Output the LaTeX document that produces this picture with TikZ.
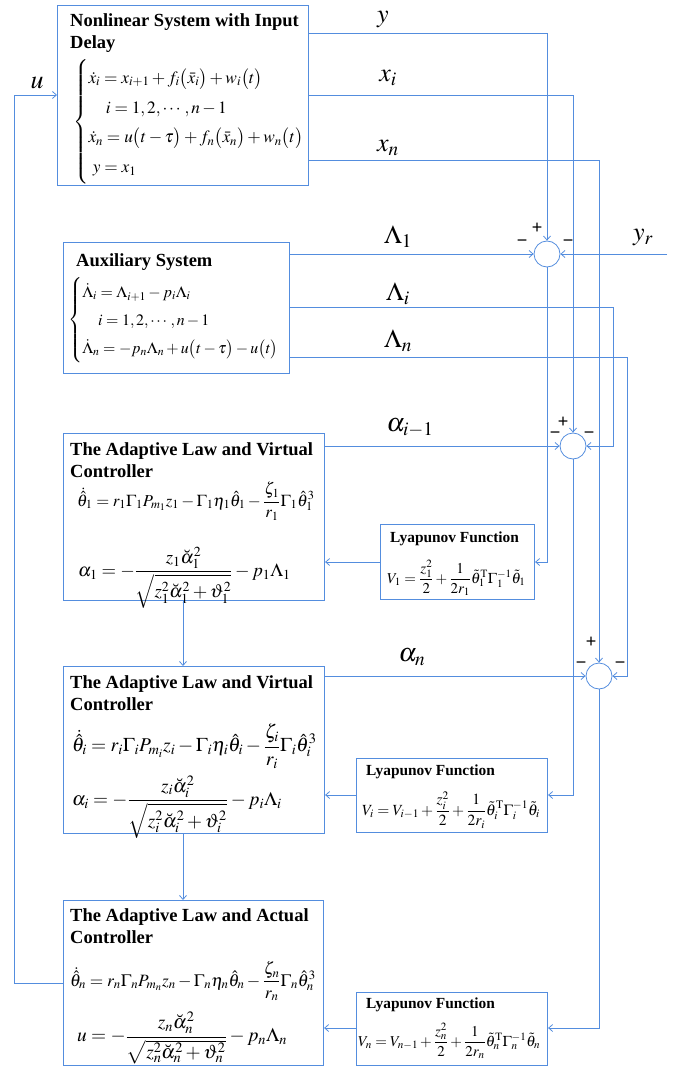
\documentclass[tikz,border=0pt]{standalone}
\usepackage{amsmath}
\usepackage{mathptmx}
\usepackage[no-math]{fontspec}
\setmainfont{Liberation Serif}
\newfontfamily\signfont{Liberation Sans}
\usetikzlibrary{arrows.meta}
\definecolor{lc}{RGB}{84,141,222}
\newcommand{\fs}[1]{\fontsize{#1}{#1}\selectfont}
\begin{document}
\begin{tikzpicture}[x=1pt,y=-1pt,
  wire/.style={draw=lc, line width=0.8pt},
  arr/.style={wire, -{Straight Barb[length=4pt,width=7pt]}},
  blk/.style={draw=lc, line width=1.1pt, rectangle, inner sep=0pt, anchor=north west},
  sumc/.style={circle, draw=lc, line width=0.8pt, minimum size=26pt, inner sep=0pt},
  ttl/.style={font=\fontsize{18.5}{22}\selectfont\bfseries, anchor=base west, inner sep=0pt, align=left},
  lyt/.style={font=\fontsize{15.4}{16}\selectfont\bfseries, anchor=base west, inner sep=0pt},
  eqn/.style={anchor=west, inner sep=0pt},
  lbl/.style={font=\fs{26}, inner sep=0pt},
  sgn/.style={font=\fs{18}\signfont, inner sep=0pt}
]
\useasboundingbox (0,0) rectangle (675,1067);

% blocks
\node[blk, minimum width=251pt, minimum height=180pt] (sys) at (57,5) {};
\node[blk, minimum width=226pt, minimum height=131pt] (aux) at (63,242) {};
\node[blk, minimum width=261pt, minimum height=167pt] (ad1) at (63,433) {};
\node[blk, minimum width=154pt, minimum height=75pt] (ly1) at (380,524) {};
\node[blk, minimum width=261pt, minimum height=167pt] (ad2) at (63,666) {};
\node[blk, minimum width=191pt, minimum height=74pt] (ly2) at (356,758) {};
\node[blk, minimum width=260pt, minimum height=165pt] (ad3) at (63,900) {};
\node[blk, minimum width=191pt, minimum height=73pt] (ly3) at (356,992) {};

% summing junctions
\node[sumc] (s1) at (547,254) {};
\node[sumc] (s2) at (573,446) {};
\node[sumc] (s3) at (599,676) {};

% block contents
\node[ttl] (sysT) at (70,49) {Nonlinear System with Input\\Delay};
\node[eqn, font=\fs{17.3}] (sysE) at (73,122) {$\renewcommand{\arraystretch}{1.73}\left\{\begin{array}{@{}l@{}}
 \dot x_i = x_{i+1} + f_i\big(\bar x_i\big) + w_i\big(t\big)\\
 \quad i=1,2,\cdots,n-1\\
 \dot x_n = u\big(t-\tau\big) + f_n\big(\bar x_n\big) + w_n\big(t\big)\\
 \ y = x_1
 \end{array}\right.$};

\node[ttl] (auxT) at (76,266) {Auxiliary System};
\node[eqn, font=\fs{15.9}] (auxE) at (68,320) {$\renewcommand{\arraystretch}{1.76}\left\{\begin{array}{@{}l@{}}
 \dot\Lambda_i = \Lambda_{i+1} - p_i\Lambda_i\\
 \quad i=1,2,\cdots,n-1\\
 \dot\Lambda_n = -p_n\Lambda_n + u\big(t-\tau\big) - u\big(t\big)
 \end{array}\right.$};

\node[ttl] (ad1T) at (70,477) {The Adaptive Law and Virtual\\Controller};
\node[eqn, font=\fs{16.7}] (ad1E) at (77,501) {$\displaystyle \dot{\hat\theta}_1 = r_1\Gamma_1 P_{m_1} z_1 - \Gamma_1\eta_1\hat\theta_1 - \frac{\zeta_1}{r_1}\Gamma_1\hat\theta_1^3$};
\node[eqn, font=\fs{18.7}] (ad1F) at (78,578) {$\displaystyle \alpha_1 = -\frac{z_1\breve\alpha_1^2}{\sqrt{z_1^2\breve\alpha_1^2+\vartheta_1^2}} - p_1\Lambda_1$};

\node[lyt] (ly1T) at (390,542) {Lyapunov Function};
\node[eqn, font=\fs{15}] (ly1E) at (387,578) {$\displaystyle V_1 = \frac{z_1^2}{2} + \frac{1}{2r_1}\tilde\theta_1^{\mathrm T}\Gamma_1^{-1}\tilde\theta_1$};

\node[ttl] (ad2T) at (70,710) {The Adaptive Law and Virtual\\Controller};
\node[eqn, font=\fs{19.5}] (ad2E) at (72,746) {$\displaystyle \dot{\hat\theta}_i = r_i\Gamma_i P_{m_i} z_i - \Gamma_i\eta_i\hat\theta_i - \frac{\zeta_i}{r_i}\Gamma_i\hat\theta_i^3$};
\node[eqn, font=\fs{19.3}] (ad2F) at (72,807) {$\displaystyle \alpha_i = -\frac{z_i\breve\alpha_i^2}{\sqrt{z_i^2\breve\alpha_i^2+\vartheta_i^2}} - p_i\Lambda_i$};

\node[lyt] (ly2T) at (366,775) {Lyapunov Function};
\node[eqn, font=\fs{15.5}] (ly2E) at (362,810) {$\displaystyle V_i = V_{i-1} + \frac{z_i^2}{2} + \frac{1}{2r_i}\tilde\theta_i^{\mathrm T}\Gamma_i^{-1}\tilde\theta_i$};

\node[ttl] (ad3T) at (70,943) {The Adaptive Law and Actual\\Controller};
\node[eqn, font=\fs{17.3}] (ad3E) at (70,981) {$\displaystyle \dot{\hat\theta}_n = r_n\Gamma_n P_{m_n} z_n - \Gamma_n\eta_n\hat\theta_n - \frac{\zeta_n}{r_n}\Gamma_n\hat\theta_n^3$};
\node[eqn, font=\fs{19.4}] (ad3F) at (77,1038) {$\displaystyle u = -\frac{z_n\breve\alpha_n^2}{\sqrt{z_n^2\breve\alpha_n^2+\vartheta_n^2}} - p_n\Lambda_n$};

\node[lyt] (ly3T) at (366,1008) {Lyapunov Function};
\node[eqn, font=\fs{15}] (ly3E) at (358,1041) {$\displaystyle V_n = V_{n-1} + \frac{z_n^2}{2} + \frac{1}{2r_n}\tilde\theta_n^{\mathrm T}\Gamma_n^{-1}\tilde\theta_n$};

% junction corner points
\coordinate (yc) at (547,33);
\coordinate (xic) at (573,95);
\coordinate (xnc) at (599,160);
\coordinate (lic) at (613,307);
\coordinate (lnc) at (627,357);
\coordinate (yr) at (667,254);
\coordinate (ul) at (14,983);
\coordinate (uu) at (14,95);

% signals out of the plant
\draw[arr] (sys.east |- yc) -- (yc) -- (s1.north);
\draw[arr] (sys.east |- xic) -- (xic) -- (s2.north);
\draw[arr] (sys.east |- xnc) -- (xnc) -- (s3.north);
% auxiliary signals
\draw[arr] (aux.east |- s1) -- (s1.west);
\draw[arr] (aux.east |- lic) -- (lic) |- (s2.east);
\draw[arr] (aux.east |- lnc) -- (lnc) |- (s3.east);
\draw[arr] (yr) -- (s1.east);
% errors to the Lyapunov functions
\draw[arr] (s1.south) |- (ly1.east |- 0,562);
\draw[arr] (s2.south) |- (ly2.east |- 0,795);
\draw[arr] (s3.south) |- (ly3.east |- 0,1028);
\draw[arr] (ly1.west |- 0,562) -- (ad1.east |- 0,562);
\draw[arr] (ly2.west |- 0,795) -- (ad2.east |- 0,795);
\draw[arr] (ly3.west |- 0,1028) -- (ad3.east |- 0,1028);
% virtual controls
\draw[arr] (ad1.east |- s2) -- (s2.west);
\draw[arr] (ad2.east |- s3) -- (s3.west);
\draw[arr] (ad1.south -| 183,0) -- (ad2.north -| 183,0);
\draw[arr] (ad2.south -| 183,0) -- (ad3.north -| 183,0);
% control input fed back to the plant
\draw[arr] (ad3.west |- ul) -- (ul) -- (uu) -- (sys.west |- uu);

% signal labels
\node[lbl] (ly) at (383,20) {$y$};
\node[lbl] (lxi) at (388,78) {$x_i$};
\node[lbl] (lxn) at (388,148) {$x_n$};
\node[lbl] (lL1) at (398,237) {$\Lambda_1$};
\node[lbl] (lLi) at (398,294) {$\Lambda_i$};
\node[lbl] (lLn) at (398,341) {$\Lambda_n$};
\node[lbl] (lai) at (410,428) {$\alpha_{i-1}$};
\node[lbl] (lan) at (412,657) {$\alpha_n$};
\node[lbl] (lyr) at (643,238) {$y_r$};
\node[lbl] (lu) at (37,83) {$u$};

% junction signs
\node[sgn] (p1) at (537,228) {+};
\node[sgn] (m1a) at (522,243) {−};
\node[sgn] (m1b) at (568,243) {−};
\node[sgn] (p2) at (563,422) {+};
\node[sgn] (m2a) at (555,435) {−};
\node[sgn] (m2b) at (589,435) {−};
\node[sgn] (p3) at (591,642) {+};
\node[sgn] (m3a) at (581,665) {−};
\node[sgn] (m3b) at (620,665) {−};
\end{tikzpicture}
\end{document}
